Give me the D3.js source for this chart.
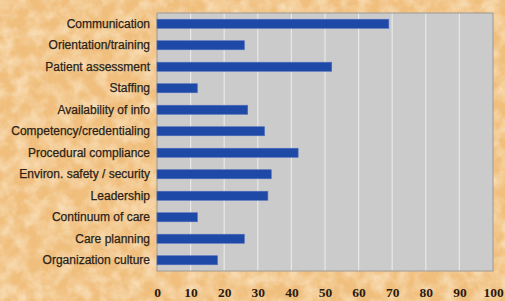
<!DOCTYPE html>
<html>
<head>
<meta charset="utf-8">
<script src="https://cdn.jsdelivr.net/npm/d3@7"></script>
<style>
  body { margin: 0; background: #f4c98c; }
  .cat { font-family: "Liberation Sans", Arial, sans-serif; font-size: 12px; fill: #2a2218; stroke: #2a2218; stroke-width: 0.25; }
  .tick text { font-family: "Liberation Serif", "Times New Roman", serif; font-weight: bold; font-size: 13.5px; fill: #2a1a10; }
</style>
</head>
<body>
<div id="chart"></div>
<script>
var categories = ["Communication", "Orientation/training", "Patient assessment", "Staffing",
  "Availability of info", "Competency/credentialing", "Procedural compliance",
  "Environ. safety / security", "Leadership", "Continuum of care", "Care planning",
  "Organization culture"];
var values = [69, 26, 52, 12, 27, 32, 42, 34, 33, 12, 26, 18];
var xTicks = [0, 10, 20, 30, 40, 50, 60, 70, 80, 90, 100];

var svgWidth = 505;
var svgHeight = 301;
var margin = { top: 13, right: 12, bottom: 30, left: 157 };
var width = svgWidth - margin.left - margin.right;
var height = svgHeight - margin.top - margin.bottom;

var svg = d3.select("#chart")
  .append("svg")
  .attr("width", svgWidth)
  .attr("height", svgHeight);

// parchment texture
var defs = svg.append("defs");
var filt = defs.append("filter").attr("id", "paper")
  .attr("x", 0).attr("y", 0).attr("width", "100%").attr("height", "100%");
filt.append("feTurbulence").attr("type", "fractalNoise")
  .attr("baseFrequency", 0.07).attr("numOctaves", 4).attr("seed", 5).attr("result", "noise");
filt.append("feColorMatrix").attr("in", "noise").attr("type", "matrix")
  .attr("values", "0 0 0 0 0.99  0 0 0 0 0.88  0 0 0 0 0.70  0 0 0 -1.2 0.78");

svg.append("rect").attr("width", svgWidth).attr("height", svgHeight).attr("fill", "#f0bf7e");
svg.append("rect").attr("width", svgWidth).attr("height", svgHeight).attr("filter", "url(#paper)");

var chartGroup = svg.append("g")
  .attr("transform", `translate(${margin.left}, ${margin.top})`);

var xScale = d3.scaleLinear().domain([0, 100]).range([0, width]);
var yScale = d3.scaleBand().domain(categories).range([0, height]).paddingInner(0.58).paddingOuter(0.29);

// plot area
chartGroup.append("rect")
  .attr("width", width).attr("height", height)
  .attr("fill", "#cbcbcb");

chartGroup.selectAll(".grid")
  .data(xTicks.slice(1, -1))
  .enter().append("line")
  .attr("x1", d => xScale(d)).attr("x2", d => xScale(d))
  .attr("y1", 0).attr("y2", height)
  .attr("stroke", "#e8e8e8").attr("stroke-width", 1.2);

chartGroup.append("rect")
  .attr("width", width).attr("height", height)
  .attr("fill", "none").attr("stroke", "#9c9a96").attr("stroke-width", 1);

// bars
chartGroup.selectAll(".bar")
  .data(values)
  .enter().append("rect")
  .attr("x", 0)
  .attr("y", (d, i) => yScale(categories[i]))
  .attr("width", d => xScale(d))
  .attr("height", yScale.bandwidth())
  .attr("fill", "#1f49a6")
  .attr("stroke", "#4a6cc0").attr("stroke-width", 0.6);

// category labels
chartGroup.selectAll(".cat")
  .data(categories)
  .enter().append("text")
  .attr("class", "cat")
  .attr("x", -7)
  .attr("y", d => yScale(d) + yScale.bandwidth() / 2)
  .attr("dy", "0.35em")
  .attr("text-anchor", "end")
  .text(d => d);

// x axis
var xAxis = d3.axisBottom(xScale).tickValues(xTicks).tickSize(0).tickPadding(16);
var ax = chartGroup.append("g")
  .attr("transform", `translate(0, ${height})`)
  .call(xAxis);
ax.select(".domain").remove();
</script>
</body>
</html>
